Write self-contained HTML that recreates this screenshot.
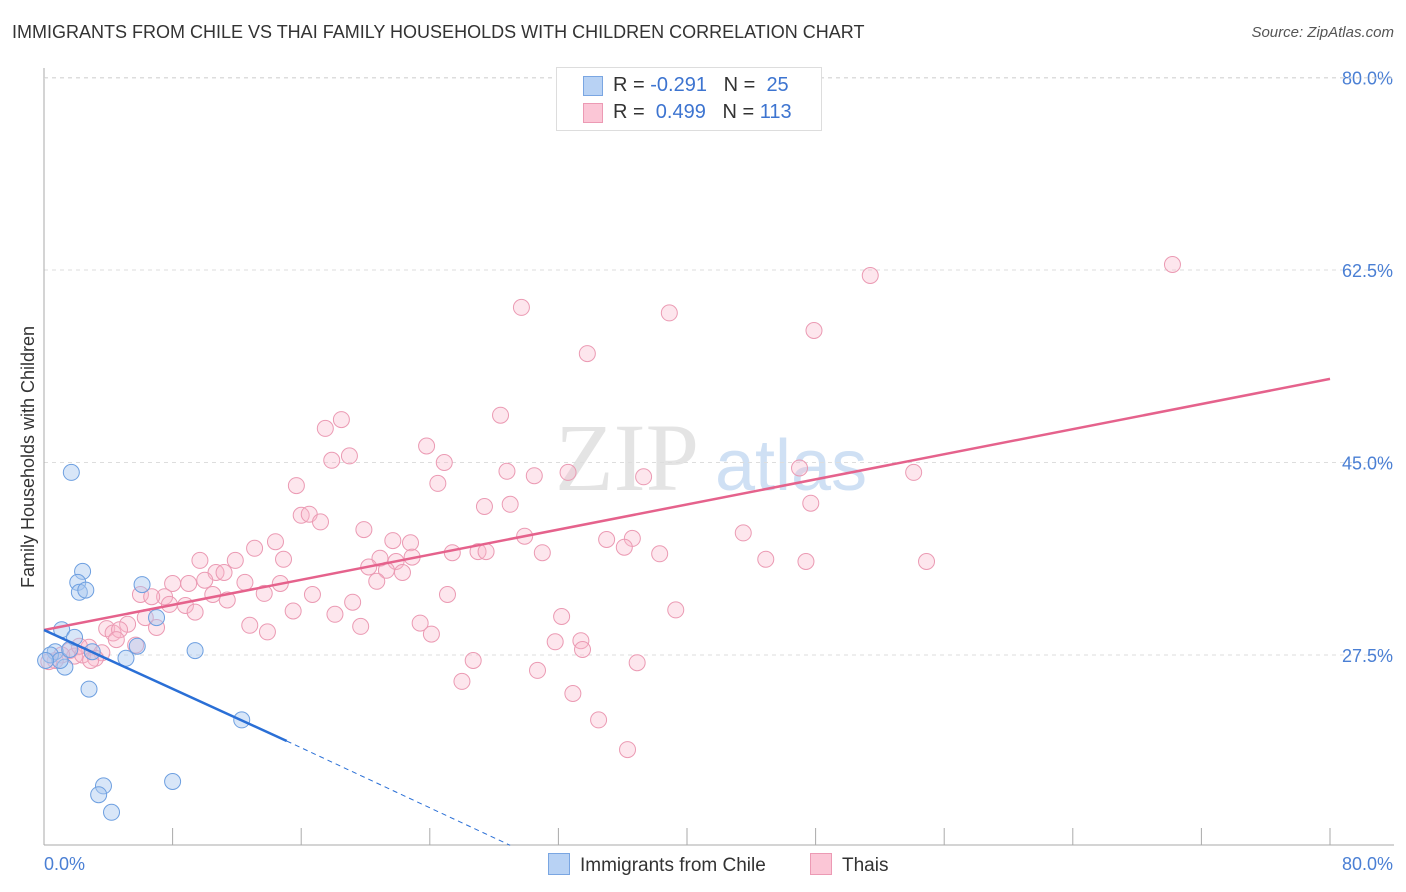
<!DOCTYPE html>
<html><head><meta charset="utf-8"><style>
body{margin:0;background:#fff;font-family:"Liberation Sans",sans-serif;}
#wrap{position:relative;width:1406px;height:892px;overflow:hidden;}
.t{position:absolute;white-space:nowrap;}
</style></head><body>
<div id="wrap">
<div class="t" style="left:12px;top:22px;font-size:18px;color:#333;">IMMIGRANTS FROM CHILE VS THAI FAMILY HOUSEHOLDS WITH CHILDREN CORRELATION CHART</div>
<div class="t" style="right:12px;top:24px;font-size:15px;color:#555;font-style:italic;">Source: ZipAtlas.com</div>
<svg id="svg" width="1406" height="892" style="position:absolute;left:0;top:0"></svg>
</div>
<script>
const yTicks=[27.5,45.0,62.5,80.0];
const xLabels=["0.0%","80.0%"];
const blueX=[2.4,2.1,2.2,2.6,6.1,1.1,1.9,7.0,5.8,5.1,9.4,3.0,2.8,12.3,3.7,3.4,8.0,4.2,0.7,1.3,1.7,0.4,1.0,0.1,1.6];
const blueY=[35.1,34.1,33.2,33.4,33.9,29.8,29.1,30.9,28.3,27.2,27.9,27.8,24.4,21.6,15.6,14.8,16.0,13.2,27.8,26.4,44.1,27.5,27.0,27.0,28.0];
const pinkX=[70.2,51.4,29.7,38.9,47.9,33.8,28.4,18.5,17.5,23.8,19.0,17.9,24.9,47.0,54.1,28.8,32.6,30.5,37.3,24.5,15.7,29.0,27.4,47.7,16.0,16.5,17.2,19.9,43.5,29.9,35.0,36.6,21.7,22.8,14.4,13.1,27.0,25.4,27.5,36.1,38.3,31.0,9.7,11.9,14.9,44.9,47.4,54.9,20.9,22.9,21.9,20.2,21.3,22.3,10.7,11.2,20.7,10.0,8.0,9.0,12.5,14.7,6.0,7.5,13.7,10.5,16.7,25.1,11.4,6.7,8.8,7.8,19.2,9.4,15.5,39.3,32.2,6.3,18.1,12.8,23.4,19.7,5.2,7.0,3.9,4.3,4.7,13.9,24.1,4.5,31.8,33.4,33.5,2.8,1.6,1.9,3.6,2.4,3.2,2.9,26.7,36.9,30.7,26.0,32.9,34.5,36.3,1.1,0.7,0.3,2.2,5.7];
const pinkY=[63.0,62.0,59.1,58.6,57.0,54.9,49.3,48.9,48.1,46.5,45.6,45.2,45.0,44.5,44.1,44.2,44.1,43.8,43.7,43.1,42.9,41.2,41.0,41.3,40.2,40.3,39.6,38.9,38.6,38.3,38.0,38.1,37.9,37.7,37.8,37.2,36.9,36.8,36.9,37.3,36.7,36.8,36.1,36.1,36.2,36.2,36.0,36.0,36.3,36.4,36.0,35.5,35.2,35.0,35.0,35.0,34.2,34.3,34.0,34.0,34.1,34.0,33.0,32.8,33.1,33.0,33.0,33.0,32.5,32.8,32.0,32.1,32.3,31.4,31.5,31.6,31.0,30.9,31.2,30.2,30.4,30.1,30.3,30.0,29.9,29.5,29.8,29.6,29.4,28.9,28.7,28.8,28.0,28.2,27.9,27.4,27.7,27.5,27.2,27.0,27.0,26.8,26.1,25.1,24.0,21.6,18.9,27.5,27.0,26.9,28.3,28.4];
const pinkLine=[[0,29.77],[80,52.6]];
const blueLine=[[0,29.77],[15.1,19.68]];
const blueDash=[[15.1,19.68],[29.0,10.2]];

const X=v=>44+v*16.075, Y=v=>957.5-v*11;
const svg=document.getElementById('svg');
const NS='http://www.w3.org/2000/svg';
function mk(tag,attrs){const e=document.createElementNS(NS,tag);for(const k in attrs)e.setAttribute(k,attrs[k]);svg.appendChild(e);return e;}
let w=mk('text',{x:555,y:490,'font-size':96,'font-family':'Liberation Serif',fill:'#e4e4e4'});w.textContent='ZIP';


let w2=mk('text',{x:715,y:490,'font-size':72,'font-family':'Liberation Sans',fill:'#cfe0f4'});w2.textContent='atlas';


yTicks.forEach(v=>{
 const g=mk('line',{x1:44,x2:1394,y1:Y(v),y2:Y(v),stroke:'#ddd','stroke-dasharray':'4,4'});
 
 
 const t=mk('text',{x:1393,y:Y(v)+7,'text-anchor':'end','font-size':18,fill:'#4a7fd4','font-family':'Liberation Sans'});t.textContent=v.toFixed(1)+'%';
 
 
});
let ax=mk('line',{x1:44,x2:44,y1:68,y2:845,stroke:'#aaa'});


let bx=mk('line',{x1:44,x2:1394,y1:845,y2:845,stroke:'#aaa'});


for(let k=1;k<=10;k++){const tk=mk('line',{x1:X(k*8),x2:X(k*8),y1:828,y2:845,stroke:'#aaa'});
 
 }
const xl0=mk('text',{x:44,y:870,'font-size':18,fill:'#4a7fd4'});xl0.textContent=xLabels[0];


const xl1=mk('text',{x:1393,y:870,'font-size':18,fill:'#4a7fd4','text-anchor':'end'});xl1.textContent=xLabels[1];


const yt=mk('text',{x:34,y:457,'font-size':18,fill:'#333','text-anchor':'middle',transform:'rotate(-90 34 457)'});yt.textContent='Family Households with Children';


pinkX.forEach((x,i)=>{const c=mk('circle',{cx:X(x),cy:Y(pinkY[i]),r:8,fill:'rgba(248,182,202,0.35)',stroke:'#eb9ab3','stroke-width':1});
 
 });
blueX.forEach((x,i)=>{const c=mk('circle',{cx:X(x),cy:Y(blueY[i]),r:8,fill:'rgba(168,200,240,0.45)',stroke:'#6d9fe0','stroke-width':1});
 
 });
const pl=mk('line',{x1:X(pinkLine[0][0]),y1:Y(pinkLine[0][1]),x2:X(pinkLine[1][0]),y2:Y(pinkLine[1][1]),stroke:'#e5628c','stroke-width':2.5});


const bl=mk('line',{x1:X(blueLine[0][0]),y1:Y(blueLine[0][1]),x2:X(blueLine[1][0]),y2:Y(blueLine[1][1]),stroke:'#2a6fd6','stroke-width':2.5});


const bd=mk('line',{x1:X(blueDash[0][0]),y1:Y(blueDash[0][1]),x2:X(blueDash[1][0]),y2:Y(blueDash[1][1]),stroke:'#2a6fd6','stroke-width':1,'stroke-dasharray':'5,4'});


const topGrid=mk('line',{x1:44,x2:1394,y1:78,y2:78,stroke:'#ddd','stroke-dasharray':'4,4'});


</script>
<div class="t" style="left:556px;top:67px;width:264px;height:62px;border:1px solid #ddd;background:#fff;font-size:20px;color:#333;">
 <div style="position:absolute;left:26px;top:8px;width:18px;height:18px;background:#b8d2f4;border:1px solid #7aa6e2;"></div>
 <div style="position:absolute;left:56px;top:6px;">R = <span style="color:#3d74d0">-0.291</span>&nbsp;&nbsp;&nbsp;N = &nbsp;<span style="color:#3d74d0">25</span></div>
 <div style="position:absolute;left:26px;top:35px;width:18px;height:18px;background:#fbc6d6;border:1px solid #ec9ab4;"></div>
 <div style="position:absolute;left:56px;top:33px;">R = &nbsp;<span style="color:#3d74d0">0.499</span>&nbsp;&nbsp;&nbsp;N = <span style="color:#3d74d0">113</span></div>
</div>
<div class="t" style="left:548px;top:853px;font-size:19px;color:#333;"><span style="display:inline-block;width:20px;height:20px;background:#b8d2f4;border:1px solid #7aa6e2;vertical-align:-4px;margin-right:10px;"></span>Immigrants from Chile</div>
<div class="t" style="left:810px;top:853px;font-size:19px;color:#333;"><span style="display:inline-block;width:20px;height:20px;background:#fbc6d6;border:1px solid #ec9ab4;vertical-align:-4px;margin-right:10px;"></span>Thais</div>
</body></html>
